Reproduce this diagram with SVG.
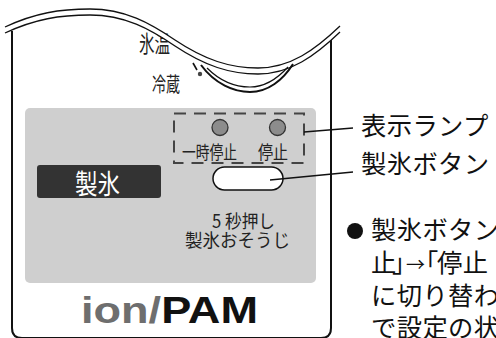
<svg xmlns="http://www.w3.org/2000/svg" width="496" height="338" viewBox="0 0 496 338">
<style>
.jp{font-family:"Noto Sans CJK JP","Noto Sans CJK SC",sans-serif;}
.big{font-size:25.3px;fill:#111;letter-spacing:0.4px;}
.ln{stroke:#111;fill:none;}
.lamp{fill:#8c8c8c;stroke:#333;stroke-width:1.3;}
</style>
<rect width="496" height="338" fill="#fff"/>
<g id="body">
  <path class="ln" stroke-width="2" d="M12,31 L12,328 Q12,338 22,338 L321,338 Q331,338 331,328 L331,37"/>
  <text class="jp" x="139" y="51.5" font-size="23" textLength="31" lengthAdjust="spacingAndGlyphs" fill="#222">氷温</text>
  <text class="jp" x="152" y="92" font-size="20" textLength="28" lengthAdjust="spacingAndGlyphs" fill="#222">冷蔵</text>
  <path d="M5,27 C35,13 60,9 90,9 C125,9 150,23 175,40 C205,60 230,68 258,68 C290,68 315,50 340,26 L340,32 C315,56 290,74 258,74 C230,74 205,66 175,46 C150,29 125,15 90,15 C60,15 35,19 5,33 Z" fill="#fff"/>
  <path class="ln" stroke-width="1.3" d="M5,27 C35,13 60,9 90,9 C125,9 150,23 175,40 C205,60 230,68 258,68 C290,68 315,50 340,26"/>
  <path class="ln" stroke-width="1.3" d="M5,33 C35,19 60,15 90,15 C125,15 150,29 175,46 C205,66 230,74 258,74 C290,74 315,56 340,32"/>
  <path class="ln" stroke-width="1.2" d="M207,68 C220,81 236,87 250,87 C265,87 278,78 288,67"/>
  <path class="ln" stroke-width="2" d="M201,65 C215,84 234,92 250,92 C268,92 283,80 293,64"/>
  <path class="ln" stroke-width="1.6" stroke="#444" d="M193,63 L197,70"/>
  <circle cx="200" cy="74" r="2.2" fill="#444"/>
</g>
<g id="panel">
  <rect x="25" y="108" width="291" height="175" rx="5" fill="#cfcfcf"/>
</g>
<g id="lamps">
  <rect x="174" y="113.5" width="130" height="49.5" fill="none" stroke="#444" stroke-width="2" stroke-dasharray="12 8"/>
  <circle class="lamp" cx="220" cy="127.5" r="8"/>
  <circle class="lamp" cx="277.5" cy="127.5" r="8"/>
  <text class="jp" x="182" y="159" font-size="18" textLength="55" lengthAdjust="spacingAndGlyphs" fill="#222">一時停止</text>
  <text class="jp" x="258" y="159" font-size="18" textLength="30" lengthAdjust="spacingAndGlyphs" fill="#222">停止</text>
</g>
<g id="ice-label">
  <rect x="37" y="165" width="124" height="33" rx="3" fill="#333"/>
  <text class="jp" x="75" y="194" font-size="27" textLength="45" lengthAdjust="spacingAndGlyphs" fill="#fff">製氷</text>
</g>
<g id="ice-button">
  <rect x="213" y="167" width="70" height="23" rx="11.5" fill="#fff" stroke="#111" stroke-width="1.5"/>
</g>
<g id="clean-label">
  <text class="jp" x="212" y="228" font-size="18" textLength="63" lengthAdjust="spacingAndGlyphs" fill="#222">5 秒押し</text>
  <text class="jp" x="185" y="247" font-size="18" textLength="105" lengthAdjust="spacingAndGlyphs" fill="#222">製氷おそうじ</text>
</g>
<g id="brand">
  <text x="81" y="323" font-family="Liberation Sans, Arial, sans-serif" font-weight="bold" font-size="36" textLength="177" lengthAdjust="spacingAndGlyphs"><tspan fill="#6e6e6e">ion/</tspan><tspan fill="#111">PAM</tspan></text>
</g>
<g id="connectors">
  <path class="ln" stroke-width="1.5" d="M304,132 L353,128"/>
  <path class="ln" stroke-width="1.5" d="M270,180 L353,172"/>
</g>
<g id="callouts">
  <text class="jp big" x="361" y="135">表示ランプ</text>
  <text class="jp big" x="361" y="173">製氷ボタン</text>
</g>
<g id="note">
  <circle cx="355" cy="231" r="8" fill="#111"/>
  <text class="jp big" x="371" y="239">製氷ボタン</text>
  <text class="jp big" y="272"><tspan x="371">止</tspan><tspan x="392">」</tspan><tspan x="406" font-size="19">→</tspan><tspan x="413">「</tspan><tspan x="437">停止</tspan></text>
  <text class="jp big" x="371" y="304.5">に切り替わ</text>
  <text class="jp big" x="371" y="337">で設定の状</text>
</g>
</svg>
